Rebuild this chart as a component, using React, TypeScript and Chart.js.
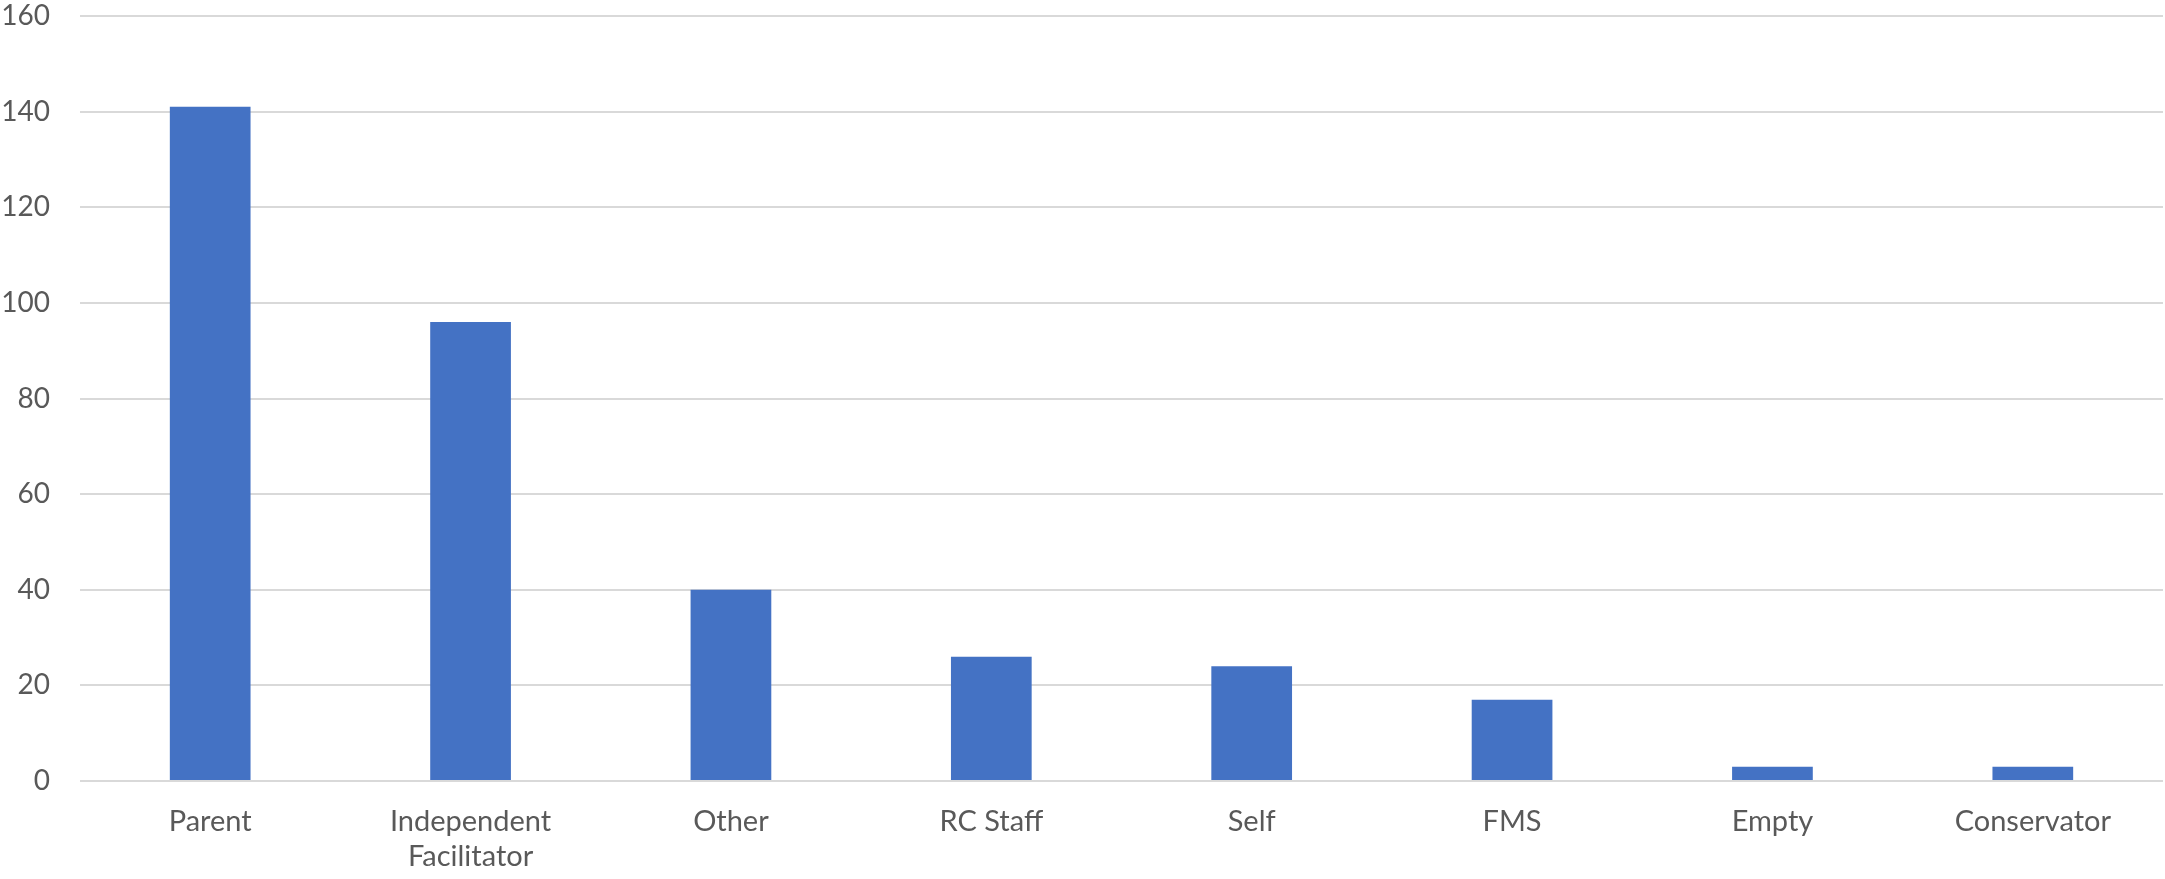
import React, { useEffect, useRef } from "react";
import { Chart, registerables } from "chart.js";

Chart.register(...registerables);

const categories: (string | string[])[] = [
  "Parent",
  ["Independent", "Facilitator"],
  "Other",
  "RC Staff",
  "Self",
  "FMS",
  "Empty",
  "Conservator",
];
const counts = [141, 96, 40, 26, 24, 17, 3, 3];
const yMin = 0;
const yMax = 160;
const yStep = 20;

export default function App() {
  const ref = useRef<HTMLCanvasElement | null>(null);
  useEffect(() => {
    document.body.style.margin = "0";
    const ctx = ref.current;
    if (!ctx) return;
    const chart = new Chart(ctx, {
      type: "bar",
      data: {
        labels: categories,
        datasets: [
          {
            data: counts,
            backgroundColor: "#4472C4",
            borderWidth: 0,
            barPercentage: 0.31,
            categoryPercentage: 1,
          },
        ],
      },
      options: {
        responsive: false,
        animation: false,
        layout: { padding: { top: 0, right: 2, left: 0, bottom: 0 } },
        plugins: { legend: { display: false }, tooltip: { enabled: false } },
        scales: {
          x: {
            grid: { display: false, drawTicks: false },
            border: { display: false },
            ticks: {
              color: "#595959",
              font: { family: "Lato", size: 29, lineHeight: 1.22 },
              padding: 23,
              maxRotation: 0,
              autoSkip: false,
            },
            afterFit: (s: any) => {
              s.height = 98;
              s.paddingLeft = 0;
              s.paddingRight = 0;
            },
          },
          y: {
            min: yMin,
            max: yMax,
            grid: { color: "#d9d9d9", lineWidth: 2, drawTicks: false },
            border: { display: false },
            ticks: {
              stepSize: yStep,
              color: "#595959",
              font: { family: "Lato", size: 28 },
              padding: 30,
            },
            afterFit: (s: any) => {
              s.width = 80;
              s.paddingTop = 16;
              s.paddingBottom = 0;
            },
          },
        },
      },
    });
    return () => chart.destroy();
  }, []);
  return <canvas ref={ref} width={2165} height={879} style={{ display: "block" }} />;
}
